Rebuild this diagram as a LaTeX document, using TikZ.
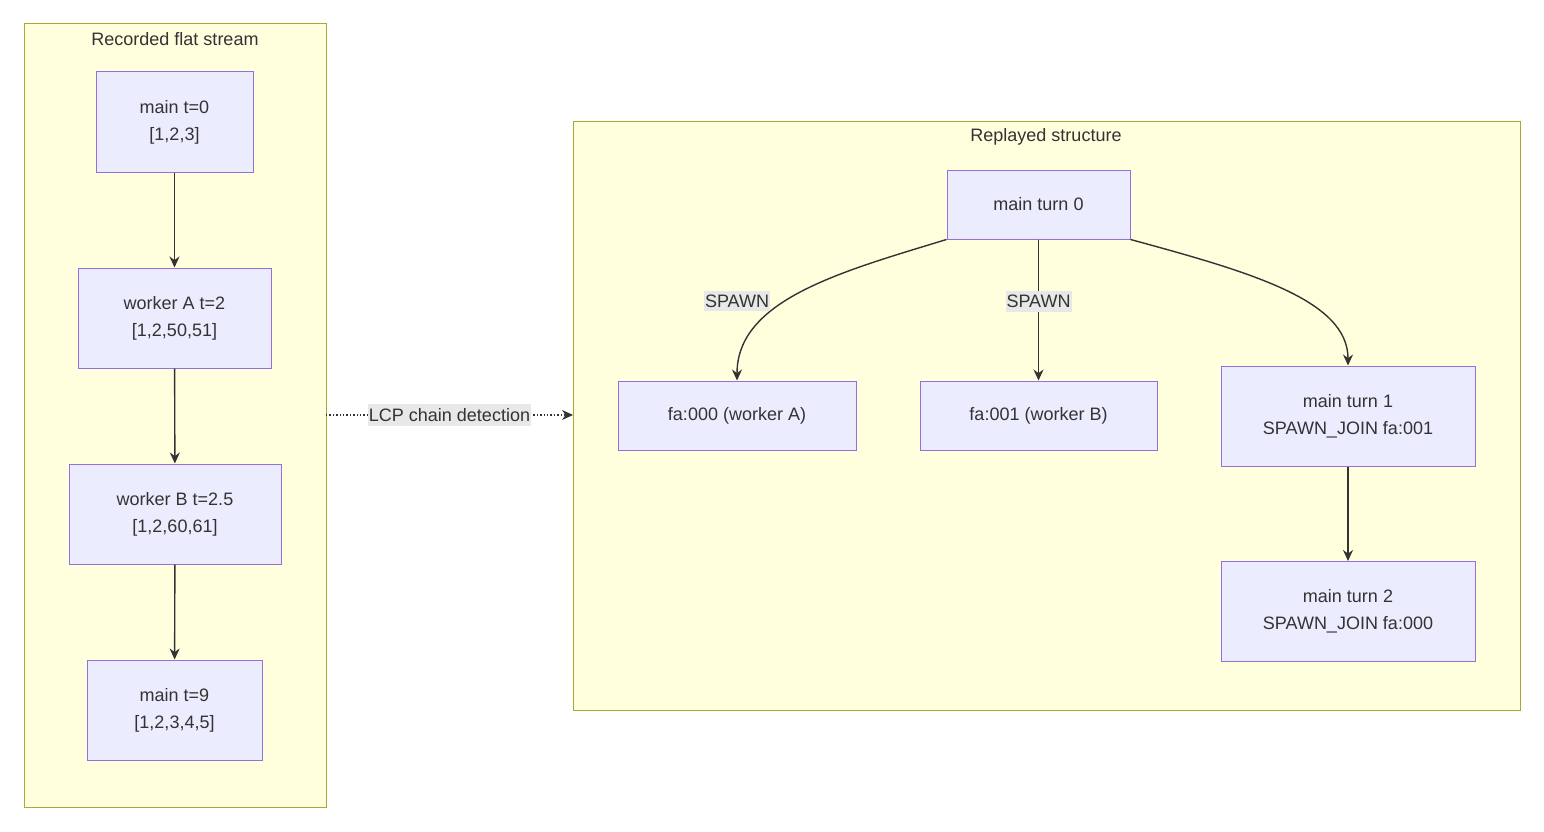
\documentclass[tikz,border=0pt]{standalone}
\usepackage{fontspec}
\setmainfont{Liberation Sans}
\usetikzlibrary{arrows.meta}
\definecolor{nfill}{HTML}{ECECFF}
\definecolor{nstroke}{HTML}{9370DB}
\definecolor{cfill}{HTML}{FFFFDE}
\definecolor{cstroke}{HTML}{AAAA33}
\definecolor{ink}{HTML}{333333}
\definecolor{lbg}{HTML}{E8E8E8}
\begin{document}
\begin{tikzpicture}[x=1pt,y=-1pt,
  font=\fontsize{18}{27}\selectfont,
  box/.style={draw=nstroke,fill=nfill,line width=1pt,text=ink,align=center,inner sep=0pt},
  clus/.style={draw=cstroke,fill=cfill,line width=1pt},
  ttl/.style={text=ink},
  edge/.style={draw=ink,line width=1.4pt,-{Stealth[length=11pt,width=10pt]}},
  lbl/.style={fill=lbg,text=ink,inner xsep=1pt,inner ysep=4pt}]
\useasboundingbox (0,0) rectangle (1544,832);
\draw[clus] (24,24) rectangle (326,807);
\node[ttl] (t1) at (175,39) {Recorded flat stream};
\draw[clus] (573,122) rectangle (1520,710);
\node[ttl] (t2) at (1046,137) {Replayed structure};
\coordinate (cl) at (326,415);
\coordinate (cr) at (573,415);

\node[box,minimum width=157pt,minimum height=100pt] (m0) at (174.5,122) {main t=0\\{}[1,2,3]};
\node[box,minimum width=193pt,minimum height=100pt] (wa) at (174.5,318) {worker A t=2\\{}[1,2,50,51]};
\node[box,minimum width=212pt,minimum height=100pt] (wb) at (175,514) {worker B t=2.5\\{}[1,2,60,61]};
\node[box,minimum width=175pt,minimum height=100pt] (m9) at (174.5,710) {main t=9\\{}[1,2,3,4,5]};

\node[box,minimum width=183pt,minimum height=69pt] (r0) at (1038.5,204.5) {main turn 0};
\node[box,minimum width=238pt,minimum height=69pt] (fa0) at (737,415.5) {fa:000 (worker A)};
\node[box,minimum width=237pt,minimum height=69pt] (fa1) at (1038.5,415.5) {fa:001 (worker B)};
\node[box,minimum width=254pt,minimum height=100pt] (r1) at (1348,416) {main turn 1\\SPAWN\_JOIN fa:001};
\node[box,minimum width=254pt,minimum height=100pt] (r2) at (1348,611.5) {main turn 2\\SPAWN\_JOIN fa:000};

\draw[edge] (m0) -- (wa);
\draw[edge] (wa) -- (wb);
\draw[edge] (wb) -- (m9);
\draw[edge,dotted,line width=1.1pt] (cl) -- node[lbl] (lcp) {LCP chain detection} (cr);

\draw[edge] (r0.south west) .. controls (840,272) and (737,300) .. (fa0.north);
\node[lbl] (s1) at (737,301) {SPAWN};
\draw[edge] (r0.south) -- node[lbl,pos=0.44] (s2) {SPAWN} (fa1.north);
\draw[edge] (r0.south east) .. controls (1250,272) and (1348,300) .. (r1.north);
\draw[edge] (r1) -- (r2);
\end{tikzpicture}
\end{document}
